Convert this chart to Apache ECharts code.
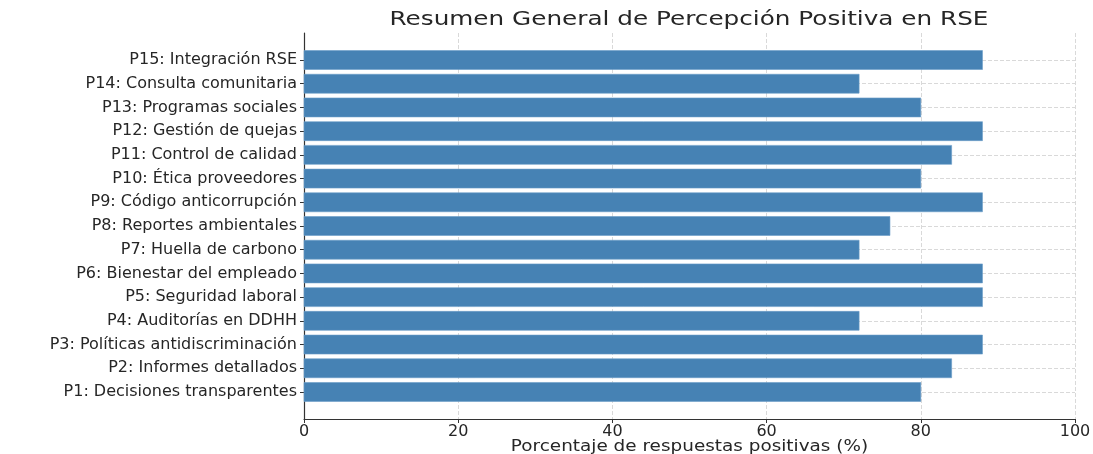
<!DOCTYPE html>
<html>
<head>
<meta charset="utf-8">
<script src="https://cdn.jsdelivr.net/npm/echarts@6/dist/echarts.min.js"></script>
<style>html,body{margin:0;padding:0;background:#fff;}#c{width:1093px;height:454px;}</style>
</head>
<body>
<div id="c"></div>
<script>
const categories = [
  "P1: Decisiones transparentes",
  "P2: Informes detallados",
  "P3: Políticas antidiscriminación",
  "P4: Auditorías en DDHH",
  "P5: Seguridad laboral",
  "P6: Bienestar del empleado",
  "P7: Huella de carbono",
  "P8: Reportes ambientales",
  "P9: Código anticorrupción",
  "P10: Ética proveedores",
  "P11: Control de calidad",
  "P12: Gestión de quejas",
  "P13: Programas sociales",
  "P14: Consulta comunitaria",
  "P15: Integración RSE"
];
const values = [80, 84, 88, 72, 88, 88, 72, 76, 88, 80, 84, 88, 80, 72, 88];
const xTicks = [0, 20, 40, 60, 80, 100];
const titleText = 'Resumen General de Percepción Positiva en RSE';
const xName = 'Porcentaje de respuestas positivas (%)';

const chart = echarts.init(document.getElementById('c'), null, {renderer: 'canvas'});
const idx = categories.map((_, i) => i);
const font = "'DejaVu Sans'";
chart.setOption({
  animation: false,
  backgroundColor: '#fff',
  graphic: [
    {type: 'text', x: 689, y: 20, scaleX: 1.3, silent: true,
     style: {text: titleText, font: "19px 'DejaVu Sans'", fill: '#262626',
             align: 'center', verticalAlign: 'middle', textAlign: 'center', textVerticalAlign: 'middle'}},
    {type: 'text', x: 689.5, y: 447, scaleX: 1.227, silent: true,
     style: {text: xName, font: "15px 'DejaVu Sans'", fill: '#262626',
             align: 'center', verticalAlign: 'middle', textAlign: 'center', textVerticalAlign: 'middle'}}
  ],
  grid: {left: 304, right: 18, top: 33, bottom: 35, containLabel: false, outerBoundsMode: 'none'},
  xAxis: {
    type: 'value', min: 0, max: 100, interval: 20,
    axisLine: {show: true, onZero: false, lineStyle: {color: '#333', width: 1.2}},
    axisTick: {show: true, length: 4, lineStyle: {color: '#333'}},
    axisLabel: {fontFamily: font, fontSize: 16, color: '#262626', margin: 5,
      customValues: xTicks},
    splitLine: {show: true, lineStyle: {color: '#d9d9d9', type: 'dashed', width: 1}}
  },
  yAxis: {
    type: 'value', min: -1.14, max: 15.14,
    axisLine: {show: true, onZero: false, lineStyle: {color: '#333', width: 1.2}},
    axisTick: {show: true, length: 4, lineStyle: {color: '#333'}, customValues: idx},
    axisLabel: {fontFamily: font, fontSize: 16, color: '#262626', margin: 7,
      customValues: idx, formatter: v => categories[Math.round(v)] || ''},
    splitLine: {show: true, lineStyle: {color: '#d9d9d9', type: 'dashed', width: 1}}
  },
  series: [{
    type: 'custom',
    data: values.map((v, i) => [v, i]),
    encode: {x: 0, y: 1},
    renderItem: function (params, api) {
      const v = api.value(0), i = api.value(1);
      const p0 = api.coord([0, i + 0.4]);
      const p1 = api.coord([v, i - 0.4]);
      return {
        type: 'rect',
        shape: {x: p0[0], y: p0[1], width: p1[0] - p0[0], height: p1[1] - p0[1]},
        style: {fill: '#4682B4', stroke: '#6a9cc8', lineWidth: 0.6}
      };
    }
  }]
});
</script>
</body>
</html>
